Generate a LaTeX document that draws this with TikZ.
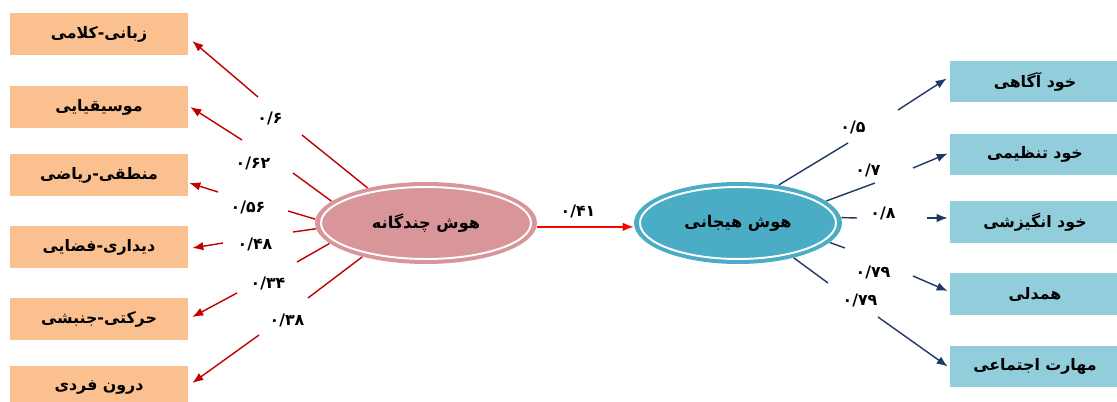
\documentclass[tikz,border=0pt]{standalone}
\usepackage{fontspec}
\newfontfamily\fa[Script=Arabic]{DejaVu Sans}
\TeXXeTstate=1
\usetikzlibrary{arrows.meta,shapes.geometric}
\definecolor{peach}{HTML}{FAC090}
\definecolor{lblue}{HTML}{92CDDC}
\definecolor{rose}{HTML}{D9969A}
\definecolor{tealc}{HTML}{4BACC6}
\definecolor{darkred}{HTML}{C00000}
\definecolor{navyc}{HTML}{1F3864}
\definecolor{brightred}{HTML}{FF0000}
\begin{document}
\begin{tikzpicture}[x=0.02cm,y=-0.02cm,
  boxbase/.style={rectangle, minimum width=3.56cm, minimum height=0.84cm, inner sep=0pt, font=\fa\bfseries\fontsize{9}{10}\selectfont},
  lbox/.style={boxbase, fill=peach},
  rbox/.style={boxbase, fill=lblue, minimum width=3.4cm},
  ell/.style={ellipse, inner sep=0pt, minimum height=1.64cm, font=\fa\bfseries\fontsize{9.2}{11}\selectfont},
  num/.style={font=\fa\bfseries\fontsize{9}{10}\selectfont, inner sep=0pt},
  ring/.style={draw=white, line width=1.1pt},
  redl/.style={draw=darkred, line width=0.8pt},
  redarr/.style={redl, -{Latex[length=2.2mm,width=1.7mm]}},
  navl/.style={draw=navyc, line width=0.8pt},
  navarr/.style={navl, -{Latex[length=2.2mm,width=1.7mm]}},
  midarr/.style={draw=brightred, line width=0.8pt, -{Latex[length=2.2mm,width=1.7mm]}}
]
\useasboundingbox (0,0) rectangle (1117,402);
\clip (0,0) rectangle (1117,402);

% left boxes
\node[lbox] (b1) at (99,34)  {\beginR زبانی-کلامی\endR};
\node[lbox] (b2) at (99,107) {\beginR موسیقیایی\endR};
\node[lbox] (b3) at (99,175) {\beginR منطقی-ریاضی\endR};
\node[lbox] (b4) at (99,247) {\beginR دیداری-فضایی\endR};
\node[lbox] (b5) at (99,319) {\beginR حرکتی-جنبشی\endR};
\node[lbox] (b6) at (99,387) {\beginR درون فردی\endR};

% right boxes
\node[rbox] (r1) at (1035,81.5)  {\beginR خود آگاهی\endR};
\node[rbox] (r2) at (1035,154.5) {\beginR خود تنظیمی\endR};
\node[rbox] (r3) at (1035,222)   {\beginR خود انگیزشی\endR};
\node[rbox] (r4) at (1035,294)   {\beginR همدلی\endR};
\node[rbox] (r5) at (1035,366.5) {\beginR مهارت اجتماعی\endR};

% ellipses
\node[ell, fill=rose, minimum width=4.44cm] (L) at (426,223) {\beginR هوش چندگانه\endR};
\draw[ring] (L.center) ellipse [x radius=2.1cm, y radius=0.72cm];
\node[ell, fill=tealc, minimum width=4.16cm] (R) at (738,223) {\beginR هوش هیجانی\endR};
\draw[ring] (R.center) ellipse [x radius=1.96cm, y radius=0.72cm];

% labels
\node[num] (n1) at (270,118) {۰/۶};
\node[num] (n2) at (253,163) {۰/۶۲};
\node[num] (n3) at (248,207) {۰/۵۶};
\node[num] (n4) at (255,244) {۰/۴۸};
\node[num] (n5) at (268,283) {۰/۳۴};
\node[num] (n6) at (287,320) {۰/۳۸};
\node[num] (n0) at (578,211) {۰/۴۱};
\node[num] (m1) at (853,127) {۰/۵};
\node[num] (m2) at (868,170) {۰/۷};
\node[num] (m3) at (883,213) {۰/۸};
\node[num] (m4) at (873,272) {۰/۷۹};
\node[num] (m5) at (860,300) {۰/۷۹};

% gap coordinates
\coordinate (g1a) at (302,135); \coordinate (g1b) at (258,97);
\coordinate (g2a) at (293,173); \coordinate (g2b) at (242,140);
\coordinate (g3a) at (288,211); \coordinate (g3b) at (218,192);
\coordinate (g4a) at (293,232); \coordinate (g4b) at (223,243);
\coordinate (g5a) at (297,262); \coordinate (g5b) at (237,293);
\coordinate (g6a) at (308,298); \coordinate (g6b) at (259,335);
\coordinate (h1a) at (848,143); \coordinate (h1b) at (898,110);
\coordinate (h2a) at (875,183); \coordinate (h2b) at (913,168);
\coordinate (h3a) at (857,218); \coordinate (h3b) at (927,218);
\coordinate (h4a) at (845,248); \coordinate (h4b) at (913,276);
\coordinate (h5a) at (828,283); \coordinate (h5b) at (878,317);

% left connectors
\draw[redl] (L.149) -- (g1a); \draw[redarr] (g1b) -- ([shift={(4,7)}]b1.east);
\draw[redl] (L.167) -- (g2a); \draw[redarr] (g2b) -- ([shift={(2,0)}]b2.east);
\draw[redl] (L.178) -- (g3a); \draw[redarr] (g3b) -- ([shift={(1,8)}]b3.east);
\draw[redl] (L.183) -- (g4a); \draw[redarr] (g4b) -- ([shift={(4,1)}]b4.east);
\draw[redl] (L.192) -- (g5a); \draw[redarr] (g5b) -- ([shift={(4,-2)}]b5.east);
\draw[redl] (L.208) -- (g6a); \draw[redarr] (g6b) -- ([shift={(4,-4)}]b6.east);

% middle connector
\draw[midarr] ([yshift=-2.2pt]L.east) -- ([yshift=-2.2pt]R.west);

% right connectors
\draw[navl] (R.43)  -- (h1a); \draw[navarr] (h1b) -- ([shift={(-3,-3)}]r1.west);
\draw[navl] (R.14)  -- (h2a); \draw[navarr] (h2b) -- ([shift={(-2,-1)}]r2.west);
\draw[navl] (R.3)   -- (h3a); \draw[navarr] (h3b) -- ([shift={(-2,-4)}]r3.west);
\draw[navl] (R.-12) -- (h4a); \draw[navarr] (h4b) -- ([shift={(-2,-3)}]r4.west);
\draw[navl] (R.-32) -- (h5a); \draw[navarr] (h5b) -- ([shift={(-2,0)}]r5.west);
\end{tikzpicture}
\end{document}
